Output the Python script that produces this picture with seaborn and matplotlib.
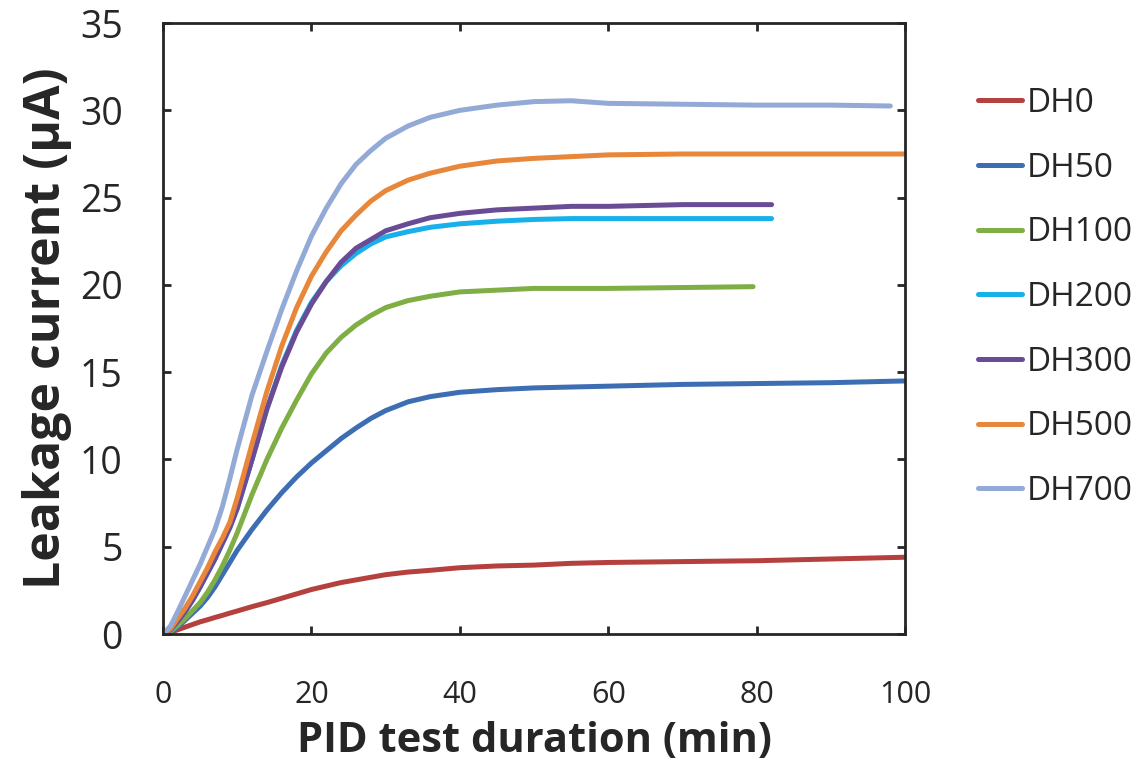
"""
Leakage current vs PID test duration for different damp-heat (DH) exposures.
"""

import matplotlib

matplotlib.use("Agg")
import matplotlib.pyplot as plt
import seaborn as sns
import pandas as pd

sns.set_style("ticks")
plt.rcParams["font.family"] = ["Open Sans", "DejaVu Sans"]

# --- data ---
samples = ["DH0", "DH50", "DH100", "DH200", "DH300", "DH500", "DH700"]
colors = ["#B5413E", "#3D6EB4", "#7FAE45", "#17B0EA", "#6A4C96", "#E8863A", "#93A9D6"]

t_base = [0, 1, 2, 3, 4, 5, 6, 7, 8, 9, 10, 12, 14, 16, 18, 20, 22, 24, 26, 28, 30,
          33, 36, 40, 45, 50, 55, 60, 70]
t_full = t_base + [80, 90, 100]
t_dh100 = t_base + [79.5]
t_dh200 = t_base + [82]
t_dh300 = t_base + [82]
t_dh700 = t_base + [80, 90, 98]

i_dh0 = [0, 0.1, 0.25, 0.4, 0.55, 0.7, 0.82, 0.95, 1.07, 1.2, 1.32,
         1.57, 1.8, 2.05, 2.3, 2.55, 2.75, 2.95, 3.1, 3.25, 3.4,
         3.55, 3.65, 3.8, 3.9, 3.95, 4.05, 4.1, 4.15, 4.2, 4.3, 4.4]
i_dh50 = [0, 0.1, 0.4, 0.8, 1.2, 1.6, 2.1, 2.7, 3.4, 4.1, 4.8,
          6.0, 7.1, 8.1, 9.0, 9.8, 10.5, 11.2, 11.8, 12.35, 12.8,
          13.3, 13.6, 13.85, 14.0, 14.1, 14.15, 14.2, 14.3, 14.35, 14.4, 14.5]
i_dh100 = [0, 0.15, 0.5, 0.9, 1.35, 1.8, 2.4, 3.1, 3.9, 4.8, 5.8,
           8.0, 10.0, 11.8, 13.4, 14.9, 16.1, 17.0, 17.7, 18.25, 18.7,
           19.1, 19.35, 19.6, 19.7, 19.8, 19.8, 19.8, 19.85, 19.9]
i_dh200 = [0, 0.25, 0.75, 1.3, 1.95, 2.7, 3.5, 4.3, 5.2, 6.1, 7.2,
           10.0, 12.9, 15.4, 17.4, 19.0, 20.2, 21.1, 21.8, 22.35, 22.75,
           23.05, 23.3, 23.5, 23.65, 23.75, 23.8, 23.8, 23.8, 23.8]
i_dh300 = [0, 0.25, 0.75, 1.3, 1.95, 2.7, 3.5, 4.3, 5.2, 6.1, 7.2,
           10.0, 12.9, 15.3, 17.3, 18.9, 20.2, 21.3, 22.1, 22.6, 23.1,
           23.5, 23.85, 24.1, 24.3, 24.4, 24.5, 24.5, 24.6, 24.6]
i_dh500 = [0, 0.3, 0.9, 1.5, 2.2, 3.0, 3.8, 4.7, 5.5, 6.4, 7.8,
           10.9, 13.9, 16.5, 18.7, 20.5, 21.9, 23.1, 24.0, 24.8, 25.4,
           26.0, 26.4, 26.8, 27.1, 27.25, 27.35, 27.45, 27.5, 27.5, 27.5, 27.5]
i_dh700 = [0, 0.45, 1.3, 2.2, 3.1, 4.0, 5.0, 6.0, 7.3, 8.9, 10.6,
           13.7, 16.2, 18.6, 20.8, 22.8, 24.4, 25.8, 26.9, 27.7, 28.4,
           29.1, 29.6, 30.0, 30.3, 30.5, 30.55, 30.4, 30.35, 30.3, 30.3, 30.25]

x_ticks = [0, 20, 40, 60, 80, 100]
y_ticks = [0, 5, 10, 15, 20, 25, 30, 35]

# --- long table for seaborn ---
series = {
    "DH0": (t_full, i_dh0),
    "DH50": (t_full, i_dh50),
    "DH100": (t_dh100, i_dh100),
    "DH200": (t_dh200, i_dh200),
    "DH300": (t_dh300, i_dh300),
    "DH500": (t_full, i_dh500),
    "DH700": (t_dh700, i_dh700),
}
frames = []
for name, (t, cur) in series.items():
    frames.append(pd.DataFrame({"time": t, "current": cur, "sample": name}))
df = pd.concat(frames, ignore_index=True)

fig = plt.figure(figsize=(11.4, 7.69), dpi=100)
ax = fig.add_axes([0.143, 0.1755, 0.651, 0.7945])

sns.lineplot(
    data=df, x="time", y="current", hue="sample", hue_order=samples,
    palette=dict(zip(samples, colors)), estimator=None, sort=False,
    linewidth=3.6, ax=ax, legend=True,
)

ax.set_xlim(0, 100)
ax.set_ylim(0, 35)
ax.set_xticks(x_ticks)
ax.set_yticks(y_ticks)
ax.tick_params(direction="in", top=True, right=True, length=6, width=2)
ax.tick_params(axis="x", labelsize=22, pad=33)
ax.tick_params(axis="y", labelsize=27, pad=29)
for sp in ax.spines.values():
    sp.set_visible(True)
    sp.set_linewidth(2)

ax.set_xlabel("PID test duration (min)", fontsize=30, fontweight="bold", labelpad=8)
ax.set_ylabel("Leakage current (µA)", fontsize=36, fontweight="bold", labelpad=6)

handles, labels = ax.get_legend_handles_labels()
leg = ax.legend(
    handles, labels, loc="upper left", bbox_to_anchor=(0.858, 0.887),
    bbox_transform=fig.transFigure, frameon=False, fontsize=24,
    handlelength=1.32, handletextpad=0.15, labelspacing=0.95, borderpad=0,
    borderaxespad=0,
)
for line in leg.get_lines():
    line.set_linewidth(3.6)

fig.savefig("out.png", dpi=100)
